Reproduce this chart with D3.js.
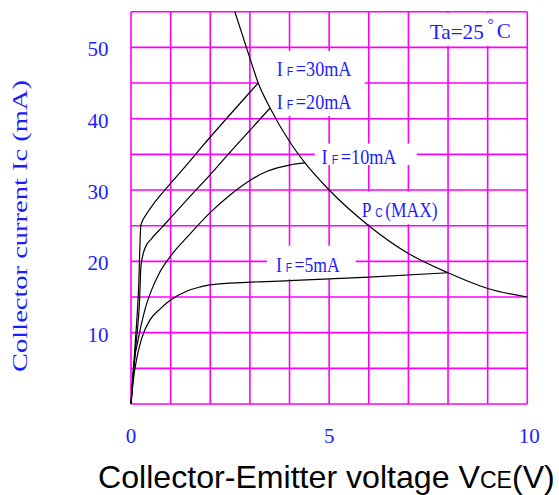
<!DOCTYPE html>
<html><head><meta charset="utf-8">
<script src="https://cdn.jsdelivr.net/npm/d3@7"></script>
<style>body{margin:0;background:#fff}svg{display:block}</style>
</head><body>
<svg id="c" width="559" height="495"></svg>
<script>
// ---- data ----
const xTickLabels = [0, 5, 10];
const yTickLabels = [10, 20, 30, 40, 50];
const xGridValues = [0,1,2,3,4,5,6,7,8,9,10];
const yGridValues = [0,5,10,15,20,25,30,35,40,45,50,55];

// Vce (V), Ic (mA)
const curveIF30 = [[0,0],[0.1,8],[0.19,16],[0.25,25.1],[0.4,26.7],[0.6,28.3],[0.9,30.3],[1.4,33.5],[1.78,36.0],[3.21,45.0]];
const curveIF20 = [[0,0],[0.12,8],[0.22,15],[0.25,19.3],[0.35,21.8],[0.52,23.2],[0.77,24.7],[0.98,26.0],[1.49,29.1],[1.99,32.1],[2.58,35.8],[3.51,41.5]];
const curveIF10 = [[0,0],[0.06,4.8],[0.18,9.0],[0.35,13.2],[0.52,16.0],[0.7,18.2],[0.98,20.6],[1.45,23.6],[1.99,26.8],[2.5,29.3],[2.96,31.2],[3.42,32.6],[4.0,33.5],[4.39,33.8]];
const curveIF5  = [[0,0],[0.05,3],[0.15,6.5],[0.27,9.2],[0.48,11.8],[0.73,13.3],[0.98,14.5],[1.4,15.8],[1.74,16.4],[2.0,16.7],[4,17.3],[6,17.8],[8,18.4]];
const curvePcMax = [[2.62,55],[3.0,48.5],[3.21,45],[3.51,41.5],[4.0,36.8],[4.39,33.8],[5,30],[6,25],[7,21.1],[8,18.4],[9,16.2],[10,15]];

// label annotations: parts, anchor (Vce, Ic), text width in px
const annotations = [
  {parts:[["I","m"],["F","s"],["=30mA","m"]], v:3.675, i:45.92, w:75},
  {parts:[["I","m"],["F","s"],["=20mA","m"]], v:3.675, i:41.39, w:75},
  {parts:[["I","m"],["F","s"],["=10mA","m"]], v:4.81,  i:33.63, w:75},
  {parts:[["P","m"],["C","s"],["(MAX)","m"]], v:5.82,  i:26.2,  w:76},
  {parts:[["I","m"],["F","s"],["=5mA","m"]],  v:3.657, i:18.52, w:64},
  {parts:[["Ta=25","m"],["°","d"],["C","m"]], v:7.54,  i:51.17, w:81}
];
// white boxes behind labels: [v0, v1, i0, i1]
const labelBoxes = [
  [3.20, 5.90, 49.5, 40.4],
  [4.64, 7.21, 36.5, 33.5],
  [5.78, 7.79, 29.8, 25.2],
  [3.43, 5.67, 22.2, 17.5],
  [7.04, 9.97, 54.8, 50.2]
];

// ---- drawing ----
const svg = d3.select("#c");
const x = d3.scaleLinear().domain([0,10]).range([131,527.3]);
const y = d3.scaleLinear().domain([0,55]).range([404,11.7]);
const grid = "#ff00ff", blue = "#1c1cff";
const serif = "'Liberation Serif','DejaVu Serif',serif";
const sans = "'Liberation Sans',Arial,sans-serif";

const gGrid = svg.append("g").attr("stroke", grid).attr("stroke-width", 1.6);
gGrid.selectAll("line.v").data(xGridValues).join("line").attr("class","v")
  .attr("x1", d=>x(d)).attr("x2", d=>x(d)).attr("y1", y(0)).attr("y2", y(55));
gGrid.selectAll("line.h").data(yGridValues).join("line").attr("class","h")
  .attr("x1", x(0)).attr("x2", x(10)).attr("y1", d=>y(d)).attr("y2", d=>y(d));

svg.append("g").selectAll("rect").data(labelBoxes).join("rect")
  .attr("x", d=>x(d[0])).attr("width", d=>x(d[1])-x(d[0]))
  .attr("y", d=>y(d[2])).attr("height", d=>y(d[3])-y(d[2]))
  .attr("fill", "#fff");

const line = d3.line().x(d=>x(d[0])).y(d=>y(d[1])).curve(d3.curveMonotoneX);
svg.append("g").attr("fill","none").attr("stroke","#000").attr("stroke-width",1.2)
  .selectAll("path").data([curveIF30, curveIF20, curveIF10, curveIF5, curvePcMax]).join("path")
  .attr("d", line);

// labels
function fitGroup(g, t, target, tx, ty, rot) {
  const w = t.node().getBBox().width;
  const sx = target / w;
  g.attr("transform", `translate(${tx},${ty})` + (rot ? ` rotate(${rot})` : "") + ` scale(${sx},1)`);
}
annotations.forEach(a => {
  const g = svg.append("g");
  const t = g.append("text").attr("fill", blue).attr("x", 0).attr("y", 0);
  a.parts.forEach(([txt, kind], k) => {
    const s = t.append("tspan").text(txt);
    if (kind === "m") s.attr("font-family", serif).attr("font-size", 22).attr("dx", k ? 3 : 0);
    else if (kind === "s") s.attr("font-family", sans).attr("font-size", 13).attr("dx", 5);
    else s.attr("font-family", serif).attr("font-size", 16).attr("dx", 4).attr("dy", -1).attr("baseline-shift", "super");
  });
  fitGroup(g, t, a.w, x(a.v), y(a.i));
});

// tick labels
svg.append("g").selectAll("text").data(yTickLabels).join("text")
  .attr("x", 108.5).attr("y", d=>y(d)+9).attr("text-anchor","end")
  .attr("font-family", serif).attr("font-size", 21).attr("fill", blue).text(d=>d);
svg.append("g").selectAll("text").data(xTickLabels).join("text")
  .attr("x", d=>x(d)+(d===10?2:0)).attr("y", 442.5).attr("text-anchor","middle")
  .attr("font-family", serif).attr("font-size", 21).attr("fill", blue).text(d=>d);

// y title
{
  const g = svg.append("g");
  const t = g.append("text").attr("text-anchor","middle").attr("fill", blue)
    .attr("font-family", serif).attr("font-size", 22).text("Collector current Ic (mA)");
  fitGroup(g, t, 292, 27, 226, -90);
}
// x title
{
  const g = svg.append("g");
  const t = g.append("text").attr("fill", "#000").attr("font-family", sans).attr("font-size", 32);
  t.append("tspan").text("Collector-Emitter voltage V");
  t.append("tspan").attr("font-size", 23).text("CE");
  t.append("tspan").text("(V)");
  fitGroup(g, t, 457, 98, 488);
}
</script>
</body></html>
